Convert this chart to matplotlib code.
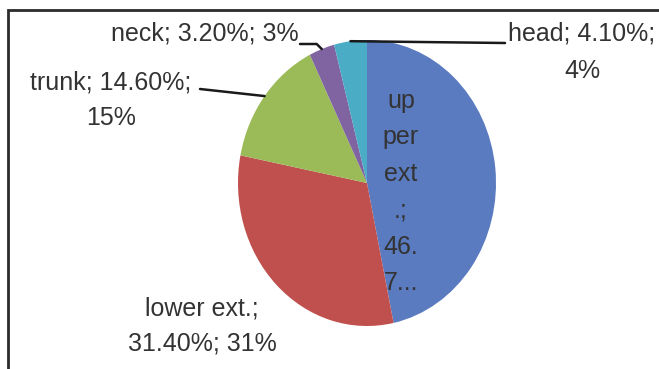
import numpy as np
import matplotlib
matplotlib.use("Agg")
import matplotlib.pyplot as plt
from matplotlib.patches import Rectangle

plt.rcParams['font.family'] = ['Liberation Sans Narrow', 'Liberation Sans', 'DejaVu Sans']

parts = ["upper ext.", "lower ext.", "trunk", "neck", "head"]
shares = [46.7, 31.4, 14.6, 3.2, 4.1]
colors = ["#5a7bc0", "#c0504d", "#9bbb59", "#8064a2", "#4bacc6"]

W, H = 659, 369

def px(x, y):
    # image pixels (top-left origin) -> figure fraction
    return (x / W, 1 - y / H)

fig = plt.figure(figsize=(W / 100, H / 100), dpi=100)
fig.patch.set_facecolor("white")

# pie is an ellipse in the original, so stretch the axes
cx, cy, rx, ry = 367, 183, 129, 143
ax = fig.add_axes([(cx - rx) / W, (H - cy - ry) / H, 2 * rx / W, 2 * ry / H])
wedges, _ = ax.pie(shares, colors=colors, startangle=90, counterclock=False,
                   wedgeprops=dict(linewidth=0))
ax.set_aspect("auto")
ax.set_xlim(-1, 1)
ax.set_ylim(-1, 1)
ax.axis("off")

txt = dict(fontsize=18, color="#333333", ha="center", va="center")

def mid(i):
    w = wedges[i]
    a = np.deg2rad((w.theta1 + w.theta2) / 2)
    return (np.cos(a), np.sin(a))

# outside labels with leader lines
line = dict(arrowstyle="-", color="#1a1a1a", lw=1.8, shrinkA=0, shrinkB=0)
ax.annotate("", xy=mid(3), xycoords="data", xytext=px(300, 44),
            textcoords="figure fraction",
            arrowprops=dict(line, connectionstyle="angle,angleA=0,angleB=135,rad=0"))
ax.annotate("", xy=mid(4), xycoords="data", xytext=px(505, 43),
            textcoords="figure fraction", arrowprops=line)
ax.annotate("", xy=mid(2), xycoords="data", xytext=px(200, 89),
            textcoords="figure fraction", arrowprops=line)

fig.text(*px(205, 34), "neck; 3.20%; 3%", **txt)
fig.text(*px(582, 52), "head; 4.10%;\n4%", linespacing=1.71, **txt)
fig.text(*px(111, 100), "trunk; 14.60%;\n15%", linespacing=1.58, **txt)
fig.text(*px(202, 326), "lower ext.;\n31.40%; 31%", linespacing=1.62, **txt)
fig.text(*px(401, 192), "up\nper\next\n.;\n46.\n7...", linespacing=1.66, **txt)

# chart frame
fig.patches.append(Rectangle(px(8, H + 5), (W + 5) / W, (H - 5) / H,
                             transform=fig.transFigure, fill=False,
                             edgecolor="#2b2b2b", linewidth=2))

fig.savefig("out.png", dpi=100)
